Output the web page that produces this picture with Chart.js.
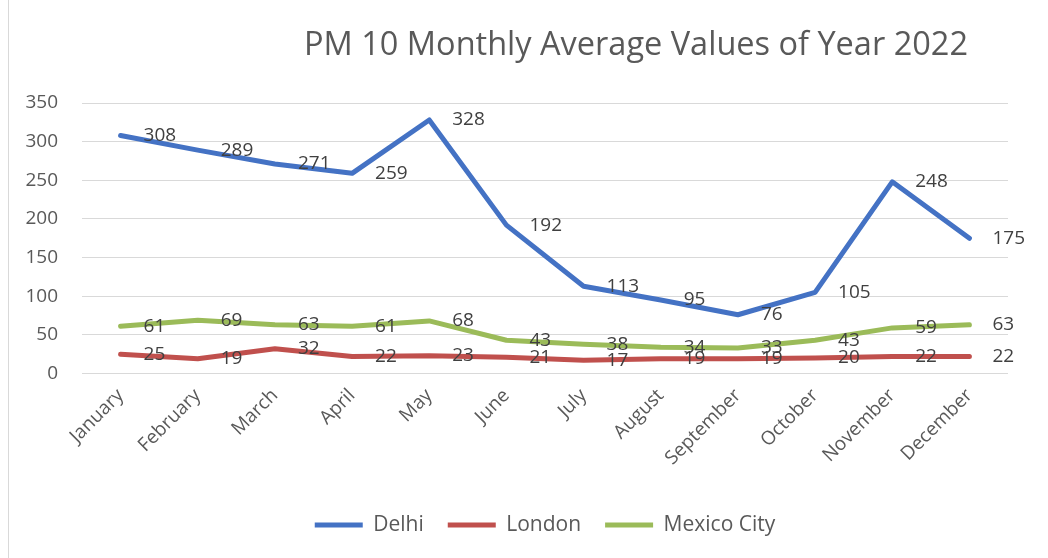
<!DOCTYPE html>
<html>
<head>
<meta charset="utf-8">
<script src="https://cdn.jsdelivr.net/npm/chart.js@4"></script>
<style>
    body { margin: 0; background: #fff; }
    #wrap { width: 1048px; height: 558px; }
</style>
</head>
<body>
<div id="wrap"><canvas id="pmChart" width="1048" height="558"></canvas></div>
<script>
const months = ["January", "February", "March", "April", "May", "June", "July", "August", "September", "October", "November", "December"];
const delhi = [308, 289, 271, 259, 328, 192, 113, 95, 76, 105, 248, 175];
const london = [25, 19, 32, 22, 23, 21, 17, 19, 19, 20, 22, 22];
const mexicoCity = [61, 69, 63, 61, 68, 43, 38, 34, 33, 43, 59, 63];
const yTicks = [0, 50, 100, 150, 200, 250, 300, 350];
const chartTitle = "PM 10 Monthly Average Values of Year 2022";

const FONT = "'Open Sans', sans-serif";

// title sits off-centre in the original, so draw it by hand
const titlePlugin = {
    id: "offTitle",
    beforeDraw(chart) {
        const ctx = chart.ctx;
        ctx.save();
        ctx.fillStyle = "#fff";
        ctx.fillRect(0, 0, chart.width, chart.height);
        ctx.strokeStyle = "#d9d9d9";
        ctx.lineWidth = 1;
        ctx.beginPath();
        ctx.moveTo(8.5, 0);
        ctx.lineTo(8.5, chart.height);
        ctx.stroke();
        ctx.restore();
    },
    afterDraw(chart) {
        const ctx = chart.ctx;
        ctx.save();
        ctx.font = "32.5px " + FONT;
        ctx.fillStyle = "#595959";
        ctx.textAlign = "center";
        ctx.textBaseline = "middle";
        ctx.fillText(chartTitle, 636, 46);
        ctx.restore();
    }
};

// values to the right of each point
const valueLabels = {
    id: "valueLabels",
    afterDatasetsDraw(chart) {
        const ctx = chart.ctx;
        ctx.save();
        ctx.font = "19px " + FONT;
        ctx.fillStyle = "#404040";
        ctx.textAlign = "left";
        ctx.textBaseline = "middle";
        chart.data.datasets.forEach((ds, i) => {
            const meta = chart.getDatasetMeta(i);
            meta.data.forEach((pt, j) => {
                ctx.fillText(String(ds.data[j]), pt.x + 23, pt.y);
            });
        });
        ctx.restore();
    }
};

new Chart(document.getElementById("pmChart"), {
    type: "line",
    data: {
        labels: months,
        datasets: [
            { label: "Delhi", data: delhi, borderColor: "#4472C4", backgroundColor: "#4472C4" },
            { label: "London", data: london, borderColor: "#C0504D", backgroundColor: "#C0504D" },
            { label: "Mexico City", data: mexicoCity, borderColor: "#9BBB59", backgroundColor: "#9BBB59" }
        ]
    },
    options: {
        responsive: false,
        animation: false,
        layout: { padding: { left: 10, right: 40, top: 103, bottom: 12.5 } },
        elements: {
            line: { borderWidth: 5, tension: 0, borderCapStyle: "round", borderJoinStyle: "round" },
            point: { radius: 0, hoverRadius: 0 }
        },
        plugins: {
            title: { display: false },
            tooltip: { enabled: false },
            legend: {
                position: "bottom",
                fullSize: false,
                labels: {
                    font: { family: FONT, size: 21 },
                    color: "#595959",
                    boxWidth: 48,
                    boxHeight: 5,
                    padding: 24,
                    generateLabels(chart) {
                        const items = Chart.defaults.plugins.legend.labels.generateLabels(chart);
                        items.forEach(it => { it.lineWidth = 0; });
                        return items;
                    }
                }
            }
        },
        scales: {
            x: {
                offset: true,
                grid: { display: false },
                border: { display: false },
                ticks: {
                    minRotation: 45,
                    maxRotation: 45,
                    font: { family: FONT, size: 19 },
                    color: "#595959"
                },
                afterFit(scale) { scale.height = 117; }
            },
            y: {
                min: 0,
                max: 350,
                afterBuildTicks(scale) { scale.ticks = yTicks.map(v => ({ value: v })); },
                grid: { color: "#d9d9d9", drawTicks: false },
                border: { display: false },
                ticks: {
                    padding: 24,
                    font: { family: FONT, size: 19 },
                    color: "#595959"
                },
                afterFit(scale) { scale.width = 72; }
            }
        }
    },
    plugins: [titlePlugin, valueLabels]
});
</script>
</body>
</html>
